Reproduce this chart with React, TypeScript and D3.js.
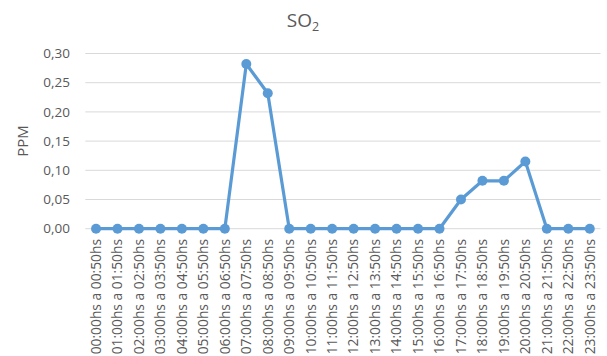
import React from "react";
import * as d3 from "d3";

const hours = [
  "00:00hs a 00:50hs", "01:00hs a 01:50hs", "02:00hs a 02:50hs", "03:00hs a 03:50hs",
  "04:00hs a 04:50hs", "05:00hs a 05:50hs", "06:00hs a 06:50hs", "07:00hs a 07:50hs",
  "08:00hs a 08:50hs", "09:00hs a 09:50hs", "10:00hs a 10:50hs", "11:00hs a 11:50hs",
  "12:00hs a 12:50hs", "13:00hs a 13:50hs", "14:00hs a 14:50hs", "15:00hs a 15:50hs",
  "16:00hs a 16:50hs", "17:00hs a 17:50hs", "18:00hs a 18:50hs", "19:00hs a 19:50hs",
  "20:00hs a 20:50hs", "21:00hs a 21:50hs", "22:00hs a 22:50hs", "23:00hs a 23:50hs",
];
const so2 = [
  0, 0, 0, 0, 0, 0, 0, 0.282, 0.232, 0, 0, 0,
  0, 0, 0, 0, 0, 0.05, 0.082, 0.082, 0.115, 0, 0, 0,
];
const yTicks = [0, 0.05, 0.1, 0.15, 0.2, 0.25, 0.3];

const W = 607;
const H = 356;
const FONT = "'Open Sans', 'Liberation Sans', sans-serif";

export default function App() {
  const x = d3.scaleBand<string>().domain(hours).range([85.3, 600.5]);
  const y = d3.scaleLinear().domain([0, 0.3]).range([228.7, 53.5]);
  const cx = (h: string) => (x(h) as number) + x.bandwidth() / 2;
  const line = d3
    .line<number>()
    .x((_, i) => cx(hours[i]))
    .y((d) => y(d));
  const fmt = (v: number) => d3.format(".2f")(v).replace(".", ",");

  return (
    <svg
      width={W}
      height={H}
      style={{ position: "absolute", left: 0, top: 0, background: "#fff" }}
      fontFamily={FONT}
    >
      <text x={303} y={27} textAnchor="middle" fontSize={19} fill="#595959">
        SO<tspan fontSize={12.5} dy={4}>2</tspan>
      </text>
      <text
        transform={`translate(28,141) rotate(-90)`}
        textAnchor="middle"
        fontSize={15}
        fill="#595959"
      >
        PPM
      </text>
      {yTicks.map((t) => (
        <g key={t}>
          <line x1={85.3} x2={600.5} y1={y(t)} y2={y(t)} stroke="#d9d9d9" strokeWidth={1} />
          <text x={70} y={y(t)} dy="0.35em" textAnchor="end" fontSize={13.5} fill="#595959">
            {fmt(t)}
          </text>
        </g>
      ))}
      {hours.map((h) => (
        <text
          key={h}
          transform={`translate(${cx(h)},239) rotate(-90)`}
          textAnchor="end"
          dy="0.35em"
          fontSize={13.8}
          fill="#595959"
        >
          {h}
        </text>
      ))}
      <path d={line(so2) ?? ""} fill="none" stroke="#5b9bd5" strokeWidth={3.2} strokeLinejoin="round" />
      {so2.map((v, i) => (
        <circle key={i} cx={cx(hours[i])} cy={y(v)} r={5} fill="#5b9bd5" />
      ))}
    </svg>
  );
}
